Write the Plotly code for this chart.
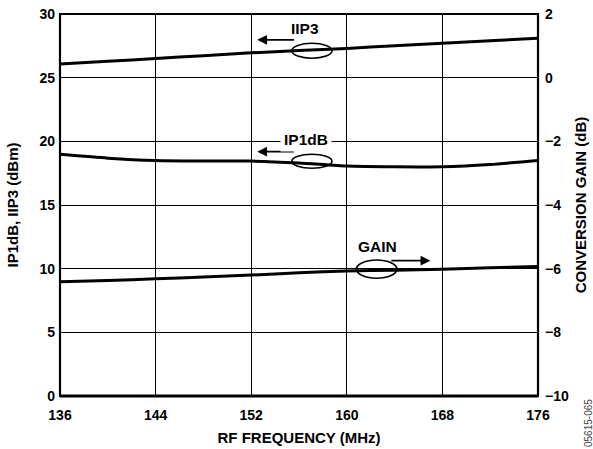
import plotly.graph_objects as go

# RF frequency sweep (MHz)
freq_mhz = [136, 140, 144, 148, 152, 156, 160, 164, 168, 172, 176]

# Input third-order intercept (dBm)
iip3_dbm = [26.08, 26.28, 26.50, 26.73, 26.95, 27.13, 27.30, 27.50, 27.70, 27.90, 28.10]

# Input 1 dB compression point (dBm)
ip1db_dbm = [18.98, 18.68, 18.50, 18.46, 18.45, 18.30, 18.06, 18.00, 18.00, 18.18, 18.50]

# Conversion gain (dB), right axis
gain_db = [-6.41, -6.37, -6.32, -6.26, -6.20, -6.13, -6.07, -6.05, -6.02, -5.97, -5.93]

x_ticks = [136, 144, 152, 160, 168, 176]
left_ticks = [0, 5, 10, 15, 20, 25, 30]
right_ticks = [-10, -8, -6, -4, -2, 0, 2]

FONT = "Liberation Sans, Arial, sans-serif"

fig = go.Figure()
line_style = dict(color="black", width=3, shape="spline", smoothing=0.6)
fig.add_trace(go.Scatter(x=freq_mhz, y=iip3_dbm, mode="lines", line=line_style, name="IIP3"))
fig.add_trace(go.Scatter(x=freq_mhz, y=ip1db_dbm, mode="lines", line=line_style, name="IP1dB"))
fig.add_trace(go.Scatter(x=freq_mhz, y=gain_db, mode="lines", line=line_style, name="GAIN", yaxis="y2"))

tick_font = dict(family=FONT, size=14, color="black", weight="bold")
title_font = dict(family=FONT, size=15, color="black", weight="bold")

fig.update_layout(
    width=593, height=449,
    margin=dict(l=60, r=55, t=14, b=53),
    paper_bgcolor="white", plot_bgcolor="white",
    showlegend=False,
    xaxis=dict(
        range=[136, 176], tickvals=x_ticks, ticks="", showgrid=True,
        gridcolor="black", gridwidth=1.4, zeroline=False, automargin=False,
        showline=False, tickfont=tick_font, ticklabelstandoff=9,
        title=dict(text="RF FREQUENCY (MHz)", font=title_font, standoff=10),
    ),
    yaxis=dict(
        range=[0, 30], tickvals=left_ticks, ticks="", showgrid=True,
        gridcolor="black", gridwidth=1.4, zeroline=False, showline=False,
        automargin=False, tickfont=tick_font, ticklabelstandoff=4,
        title=dict(text="IP1dB, IIP3 (dBm)", font=title_font, standoff=17),
    ),
    yaxis2=dict(
        range=[-10, 2], tickvals=right_ticks,
        overlaying="y", side="right", ticks="", showgrid=False,
        zeroline=False, showline=False, automargin=False,
        tickfont=tick_font, ticklabelstandoff=6,
        title=dict(text="CONVERSION GAIN (dB)", font=title_font, standoff=7),
    ),
)

# Plot frame, with a heavier bottom edge
fig.add_shape(type="rect", xref="paper", yref="paper", x0=0, y0=0, x1=1, y1=1,
              line=dict(color="black", width=2.2), layer="above")
fig.add_shape(type="line", xref="paper", yref="paper", x0=0, y0=0, x1=1, y1=0,
              line=dict(color="black", width=3), layer="above")

ann_font = dict(family=FONT, size=15.5, color="black", weight="bold")

# Curve call-outs: ellipse on the curve, arrow to its axis, label
callouts = [
    # (label, label_x, label_y, ellipse box, arrow tail, arrow head, white box)
    ("IIP3", 156.5, 28.9, (155.4, 26.53, 158.76, 27.70), (155.7, 27.97), (152.5, 27.97), False),
    ("IP1dB", 156.6, 20.15, (155.4, 17.89, 158.76, 18.99), (155.7, 19.19), (152.5, 19.19), True),
    ("GAIN", 162.6, 11.75, (160.8, 9.25, 164.2, 10.68), (163.6, 10.63), (167.0, 10.63), False),
]
for label, lx, ly, (ex0, ey0, ex1, ey1), (tx, ty), (hx, hy), boxed in callouts:
    fig.add_shape(type="circle", xref="x", yref="y", x0=ex0, y0=ey0, x1=ex1, y1=ey1,
                  line=dict(color="black", width=1.6), layer="above")
    fig.add_annotation(x=hx, y=hy, ax=tx, ay=ty, xref="x", yref="y", axref="x", ayref="y",
                       text="", showarrow=True, arrowhead=2, arrowsize=1.1,
                       arrowwidth=1.8, arrowcolor="black")
    fig.add_annotation(x=lx, y=ly, xref="x", yref="y", text=label, showarrow=False,
                       font=ann_font, bgcolor="white" if boxed else None, borderpad=3)

# Figure code along the right edge, below the gain axis
fig.add_annotation(x=1.0, y=0.0, xref="paper", yref="paper", xanchor="center", yanchor="middle",
                   xshift=50, yshift=-27, text="05615-065", textangle=-90, showarrow=False,
                   font=dict(family=FONT, size=10, color="#444"))

fig.write_html("out.html")
